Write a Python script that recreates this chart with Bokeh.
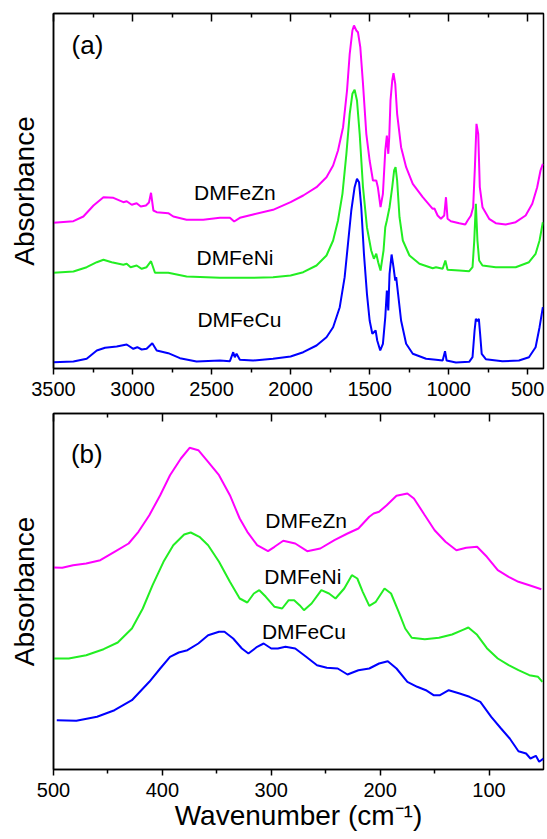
from bokeh.plotting import figure
from bokeh.layouts import column
from bokeh.models import Range1d, FixedTicker, LinearAxis, ColumnDataSource
from bokeh.core.properties import value
from bokeh.embed import file_html
from bokeh.resources import INLINE

# ---------------- Panel (a): 3500-400 cm-1 ----------------
zn_a_wn = [3500, 3374, 3311, 3247, 3184, 3121, 3058, 3037, 3005, 2974, 2948, 2915, 2896, 2883, 2868, 2847,
           2774, 2742, 2658, 2553, 2447, 2384, 2357, 2321, 2237, 2111, 2000, 1920, 1836, 1773, 1731, 1700,
           1668, 1643, 1626, 1609, 1599, 1584, 1574, 1559, 1542, 1521, 1500, 1479, 1458, 1448, 1431, 1416,
           1401, 1391, 1382, 1376, 1368, 1357, 1349, 1338, 1326, 1301, 1269, 1227, 1164, 1101, 1090, 1070,
           1049, 1028, 1017, 1007, 986, 933, 895, 880, 859, 845, 834, 824, 813, 803, 786, 744, 702, 639,
           576, 513, 471, 440, 419, 404]
zn_a_ab = [1.457, 1.473, 1.52, 1.63, 1.713, 1.707, 1.663, 1.673, 1.637, 1.653, 1.62, 1.63, 1.66, 1.757, 1.58,
           1.563, 1.553, 1.52, 1.487, 1.487, 1.507, 1.507, 1.47, 1.507, 1.54, 1.587, 1.663, 1.73, 1.813,
           1.913, 2.03, 2.18, 2.413, 2.78, 3.147, 3.38, 3.43, 3.38, 3.363, 3.213, 2.847, 2.347, 2.08, 1.88,
           1.88, 1.813, 1.613, 1.747, 2.18, 2.33, 2.147, 2.313, 2.68, 2.88, 2.953, 2.847, 2.547, 2.213,
           2.013, 1.847, 1.713, 1.597, 1.6, 1.53, 1.497, 1.53, 1.713, 1.497, 1.473, 1.453, 1.44, 1.48,
           1.53, 1.613, 2.013, 2.447, 2.347, 1.813, 1.613, 1.497, 1.453, 1.44, 1.463, 1.53, 1.647, 1.813,
           1.98, 2.047]

ni_a_wn = [3500, 3374, 3290, 3226, 3184, 3132, 3058, 3037, 3012, 2974, 2942, 2911, 2883, 2858, 2774, 2658,
           2447, 2237, 2111, 2000, 1920, 1836, 1773, 1731, 1700, 1672, 1647, 1626, 1609, 1595, 1580, 1563,
           1542, 1517, 1490, 1473, 1458, 1446, 1431, 1412, 1401, 1391, 1374, 1357, 1345, 1336, 1326, 1311,
           1290, 1248, 1185, 1101, 1080, 1038, 1021, 1007, 933, 870, 849, 838, 828, 818, 807, 786, 702,
           576, 492, 450, 425, 404]
ni_a_ab = [0.957, 0.97, 1.013, 1.063, 1.087, 1.063, 1.037, 1.047, 1.013, 1.03, 0.997, 1.013, 1.073, 0.957,
           0.957, 0.92, 0.907, 0.907, 0.913, 0.93, 0.963, 1.03, 1.13, 1.28, 1.48, 1.747, 2.147, 2.547,
           2.747, 2.787, 2.68, 2.347, 1.813, 1.413, 1.18, 1.097, 1.147, 1.063, 0.98, 1.18, 1.413, 1.48,
           1.613, 1.813, 1.98, 2.013, 1.88, 1.513, 1.28, 1.13, 1.047, 1.003, 1.013, 0.997, 1.08, 0.987,
           0.98, 0.973, 1.013, 1.28, 1.647, 1.28, 1.08, 1.03, 1.013, 1.013, 1.063, 1.147, 1.28, 1.463]

cu_a_wn = [3500, 3374, 3290, 3226, 3174, 3100, 3037, 2995, 2970, 2942, 2911, 2875, 2847, 2774, 2700, 2595,
           2447, 2384, 2363, 2353, 2342, 2321, 2237, 2111, 2000, 1920, 1836, 1773, 1731, 1689, 1658, 1637,
           1616, 1595, 1580, 1567, 1553, 1536, 1517, 1500, 1483, 1473, 1462, 1452, 1433, 1416, 1401, 1391,
           1382, 1374, 1361, 1349, 1338, 1332, 1320, 1301, 1269, 1227, 1143, 1080, 1038, 1023, 1013, 954,
           870, 849, 836, 828, 818, 809, 801, 791, 765, 660, 555, 492, 450, 425, 404]
cu_a_ab = [0.063, 0.07, 0.097, 0.18, 0.207, 0.22, 0.24, 0.197, 0.213, 0.19, 0.197, 0.253, 0.18, 0.153, 0.103,
           0.07, 0.08, 0.073, 0.163, 0.113, 0.147, 0.087, 0.08, 0.097, 0.12, 0.163, 0.23, 0.313, 0.413,
           0.613, 0.913, 1.247, 1.58, 1.813, 1.897, 1.863, 1.613, 1.147, 0.747, 0.48, 0.347, 0.363, 0.38,
           0.28, 0.18, 0.247, 0.513, 0.78, 0.58, 0.947, 1.14, 1.013, 0.88, 0.913, 0.747, 0.48, 0.247, 0.147,
           0.097, 0.087, 0.08, 0.173, 0.08, 0.06, 0.067, 0.113, 0.38, 0.497, 0.473, 0.497, 0.347, 0.147,
           0.093, 0.073, 0.08, 0.113, 0.213, 0.413, 0.613]

# ---------------- Panel (b): 500-50 cm-1 ----------------
zn_b_wn = [500, 492, 482, 470, 457, 444, 431, 422, 412, 402, 393, 383, 375, 367, 358, 348, 338, 329, 322,
           313, 303, 297, 289, 278, 267, 255, 242, 230, 220, 210, 206, 201, 194, 185, 175, 169, 159, 150,
           140, 130, 121, 111, 102, 92, 82, 73, 63, 52]
zn_b_ab = [2.02, 2.017, 2.043, 2.06, 2.093, 2.177, 2.26, 2.377, 2.543, 2.743, 2.943, 3.11, 3.217, 3.193,
           3.077, 2.943, 2.743, 2.51, 2.377, 2.243, 2.183, 2.227, 2.287, 2.26, 2.183, 2.21, 2.293, 2.36,
           2.41, 2.527, 2.56, 2.577, 2.643, 2.737, 2.76, 2.71, 2.543, 2.393, 2.277, 2.193, 2.217, 2.227,
           2.127, 1.993, 1.927, 1.877, 1.843, 1.803]

ni_b_wn = [500, 486, 470, 454, 441, 428, 418, 409, 399, 390, 380, 374, 366, 358, 348, 338, 329, 322, 316,
           311, 305, 297, 290, 284, 279, 274, 270, 263, 254, 247, 241, 233, 226, 221, 216, 210, 204, 196,
           190, 183, 177, 171, 159, 146, 134, 124, 119, 111, 102, 92, 82, 73, 63, 55, 51]
ni_b_ab = [1.11, 1.11, 1.143, 1.203, 1.27, 1.41, 1.61, 1.843, 2.077, 2.243, 2.35, 2.37, 2.327, 2.243, 2.077,
           1.877, 1.71, 1.67, 1.76, 1.793, 1.727, 1.627, 1.61, 1.693, 1.693, 1.643, 1.593, 1.66, 1.793,
           1.76, 1.71, 1.81, 1.943, 1.91, 1.777, 1.637, 1.677, 1.81, 1.76, 1.577, 1.41, 1.317, 1.303,
           1.317, 1.35, 1.397, 1.42, 1.347, 1.213, 1.11, 1.043, 0.993, 0.943, 0.927, 0.877]

cu_b_wn = [497, 479, 460, 444, 428, 412, 402, 393, 385, 377, 367, 358, 348, 343, 335, 327, 321, 313, 307,
           300, 294, 287, 278, 268, 258, 249, 239, 230, 220, 210, 201, 193, 185, 175, 166, 158, 151, 145,
           137, 127, 118, 108, 98, 89, 81, 73, 66, 62, 57, 54, 50]
cu_b_ab = [0.493, 0.487, 0.527, 0.593, 0.693, 0.877, 1.01, 1.127, 1.17, 1.193, 1.26, 1.343, 1.377, 1.377,
           1.31, 1.21, 1.16, 1.227, 1.26, 1.21, 1.21, 1.227, 1.21, 1.127, 1.043, 1.017, 1.01, 0.95, 0.993,
           1.01, 1.06, 1.083, 1.01, 0.877, 0.827, 0.793, 0.743, 0.743, 0.793, 0.76, 0.727, 0.677, 0.527,
           0.41, 0.31, 0.183, 0.16, 0.11, 0.137, 0.077, 0.11]

names = ["DMFeZn", "DMFeNi", "DMFeCu"]
colors = ["#ff00ff", "#22ee22", "#0000ff"]
label_a_wn = [2352, 2352, 2324]
label_a_ab = [1.76, 1.11, 0.493]
label_b_wn = [268, 271, 270]
label_b_ab = [2.49, 1.93, 1.383]

ticks_a = [3500, 3000, 2500, 2000, 1500, 1000, 500]
minor_a = [3250, 2750, 2250, 1750, 1250, 750]
ticks_b = [500, 400, 300, 200, 100]
minor_b = [450, 350, 250, 150]

FONT = "Liberation Sans"


def make_panel(xr, yr, height, border_bottom, border_top, ticks, minor, series, labels, tag, tag_pos, xlabel):
    p = figure(width=547, height=height, x_range=xr, y_range=yr, output_backend="svg",
               toolbar_location=None, min_border_left=53, min_border_right=4,
               min_border_top=border_top, min_border_bottom=border_bottom)
    p.grid.visible = False
    p.outline_line_color = "black"
    p.outline_line_width = 1.5
    p.background_fill_color = "white"
    p.border_fill_color = "white"

    xa = p.xaxis[0]
    xa.ticker = FixedTicker(ticks=ticks, minor_ticks=minor)
    xa.major_tick_in = 0
    xa.major_tick_out = 6
    xa.minor_tick_in = 0
    xa.minor_tick_out = 4
    xa.major_tick_line_width = 1.5
    xa.minor_tick_line_width = 1.5
    xa.axis_line_width = 1.5
    xa.major_label_text_font = FONT
    xa.major_label_text_font_size = "20px"
    xa.major_label_text_color = "black"
    xa.major_label_standoff = 7
    if xlabel:
        xa.axis_label = xlabel
        xa.axis_label_text_font = FONT
        xa.axis_label_text_font_size = "28px"
        xa.axis_label_text_font_style = "normal"
        xa.axis_label_text_color = "black"
        xa.axis_label_standoff = 0

    ya = p.yaxis[0]
    ya.ticker = FixedTicker(ticks=[])
    ya.axis_label = "Absorbance"
    ya.axis_label_text_font = FONT
    ya.axis_label_text_font_size = "28px"
    ya.axis_label_text_font_style = "normal"
    ya.axis_label_text_color = "black"
    ya.axis_label_standoff = 14
    ya.major_tick_out = 0
    ya.major_label_standoff = 0
    ya.axis_line_width = 1.5

    top = LinearAxis(ticker=FixedTicker(ticks=ticks, minor_ticks=minor))
    top.major_tick_in = 8
    top.major_tick_out = 0
    top.minor_tick_in = 4
    top.minor_tick_out = 0
    top.major_tick_line_width = 1.5
    top.minor_tick_line_width = 1.5
    top.axis_line_width = 1.5
    top.major_label_text_font_size = "1px"
    top.major_label_text_color = None
    top.major_label_standoff = 0
    p.add_layout(top, "above")

    for (wn, ab), c in zip(series, colors):
        p.line(wn, ab, line_color=c, line_width=2)

    src = ColumnDataSource(dict(x=labels[0], y=labels[1], t=names))
    p.text(x="x", y="y", text="t", source=src, text_font=value(FONT), text_font_size="21px",
           text_align="center", text_baseline="middle", text_color="black")
    p.text(x=[tag_pos[0]], y=[tag_pos[1]], text=[tag], text_font=value(FONT), text_font_size="26px",
           text_align="left", text_baseline="middle", text_color="black")
    return p


pa = make_panel(Range1d(3500, 400), Range1d(0, 3.55), 403, 35, 13, ticks_a, minor_a,
                [(zn_a_wn, zn_a_ab), (ni_a_wn, ni_a_ab), (cu_a_wn, cu_a_ab)],
                (label_a_wn, label_a_ab), "(a)", (3386, 3.24), None)
pb = make_panel(Range1d(500, 50), Range1d(0, 3.56), 436, 70, 10, ticks_b, minor_b,
                [(zn_b_wn, zn_b_ab), (ni_b_wn, ni_b_ab), (cu_b_wn, cu_b_ab)],
                (label_b_wn, label_b_ab), "(b)", (484, 3.16), "Wavenumber (cm\u207b\u00b9)")

layout = column(pa, pb, spacing=0)
open("out.html", "w").write(file_html(layout, INLINE))
